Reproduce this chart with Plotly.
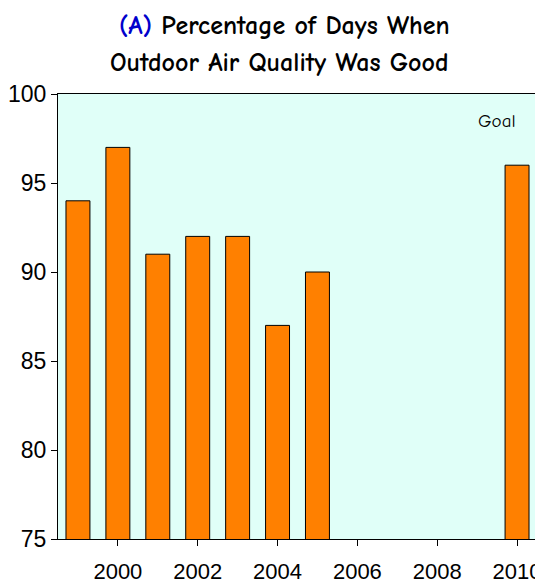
import plotly.graph_objects as go

years = [1999, 2000, 2001, 2002, 2003, 2004, 2005, 2010]
percent_good = [94, 97, 91, 92, 92, 87, 90, 96]
x_ticks = [2000, 2002, 2004, 2006, 2008, 2010]
y_ticks = [75, 80, 85, 90, 95, 100]
title_line1 = "<b><span style='color:#0000CC'>(A)</span> Percentage of Days When</b>"
title_line2 = "<b>Outdoor Air Quality Was Good</b>"

tick_font = dict(family="Liberation Sans, Arial, sans-serif", size=23, color="black")
x_tick_font = dict(family="Liberation Sans, Arial, sans-serif", size=22, color="black")
comic = "Comic Sans MS, Comic Neue, Noto Sans, sans-serif"

fig = go.Figure(go.Bar(
    x=years, y=percent_good, width=0.6,
    marker=dict(color="#FF8000", line=dict(color="black", width=1)),
))

# page body has an 8px margin, so the figure is sized to fit the 543x587 window
fig.update_layout(
    width=535, height=579,
    margin=dict(l=50, r=6, t=86, b=48, autoexpand=False),
    paper_bgcolor="white", plot_bgcolor="#E0FFF8",
    showlegend=False,
    xaxis=dict(
        range=[1998.5, 2010.5], tickvals=x_ticks, ticks="outside", ticklen=6,
        tickcolor="black", showline=True, linecolor="black", linewidth=1, mirror=True,
        showgrid=False, zeroline=False, tickfont=x_tick_font, ticklabelstandoff=7,
        automargin=False,
    ),
    yaxis=dict(
        range=[75, 100], tickvals=y_ticks, ticks="outside", ticklen=6,
        tickcolor="black", showline=True, linecolor="black", linewidth=1, mirror=True,
        showgrid=False, zeroline=False, tickfont=tick_font, automargin=False,
    ),
    annotations=[
        dict(x=0.472, y=1.152, xref="paper", yref="paper", text=title_line1, showarrow=False,
             xanchor="center", yanchor="middle", font=dict(family=comic, size=26, color="black")),
        dict(x=0.462, y=1.069, xref="paper", yref="paper", text=title_line2, showarrow=False,
             xanchor="center", yanchor="middle", font=dict(family=comic, size=26, color="black")),
        dict(x=2009.5, y=98.48, xref="x", yref="y", text="Goal", showarrow=False,
             font=dict(family=comic, size=19, color="black")),
    ],
)

fig.write_html("out.html")
